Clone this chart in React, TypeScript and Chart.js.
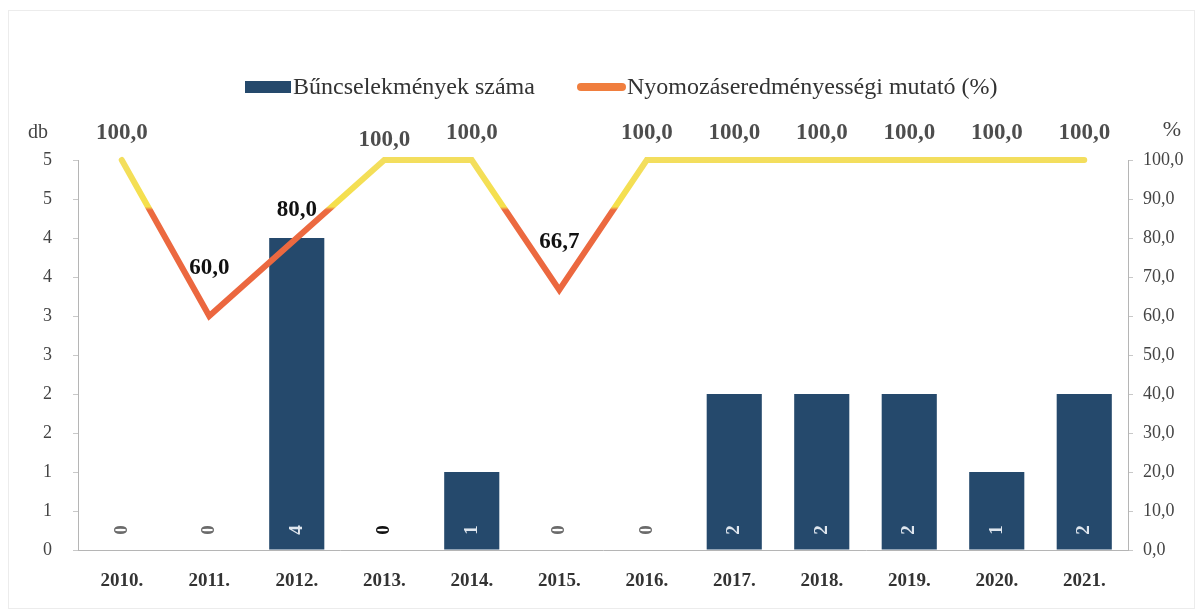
import React, { useEffect, useRef } from 'react';
import { Chart, registerables } from 'chart.js';

Chart.register(...registerables);

const years = ['2010.', '2011.', '2012.', '2013.', '2014.', '2015.', '2016.', '2017.', '2018.', '2019.', '2020.', '2021.'];
const crimeCounts = [0, 0, 4, 0, 1, 0, 0, 2, 2, 2, 1, 2];
const detectionRate = [100, 60, 80, 100, 100, 66.7, 100, 100, 100, 100, 100, 100];
const seriesNames = ['Bűncselekmények száma', 'Nyomozáseredményességi mutató (%)'];
const leftAxisTitle = 'db';
const rightAxisTitle = '%';

const FONT = "'Liberation Serif', 'Times New Roman', serif";
const BAR_COLOR = '#25496C';
const LINE_SWATCH = '#F07E3E';

// vertical offsets of line labels above their points
const lineLabelDy = [-27, -48, -28, -20, -27, -48, -27, -27, -27, -27, -27, -27];

const fmtPct = (v: number) => v.toFixed(1).replace('.', ',');

const decorPlugin = {
  id: 'decor',
  afterDatasetsDraw(chart: any) {
    const ctx = chart.ctx as CanvasRenderingContext2D;
    const yScale = chart.scales.y;
    // bar labels (rotated, inside bottom of bar)
    const barMeta = chart.getDatasetMeta(0);
    ctx.save();
    ctx.font = `bold 19px ${FONT}`;
    ctx.textAlign = 'center';
    ctx.textBaseline = 'middle';
    barMeta.data.forEach((el: any, i: number) => {
      const v = crimeCounts[i];
      const y = yScale.getPixelForValue(0) - 20;
      ctx.save();
      ctx.translate(el.x, y);
      ctx.rotate(-Math.PI / 2);
      ctx.fillStyle = v > 0 ? '#dfe6ee' : (i === 3 ? '#111' : '#6a6a6a');
      ctx.fillText(String(v), 0, 0);
      ctx.restore();
    });
    ctx.restore();

    // line labels
    const lineMeta = chart.getDatasetMeta(1);
    ctx.save();
    ctx.font = `bold 23px ${FONT}`;
    ctx.textAlign = 'center';
    ctx.textBaseline = 'middle';
    lineMeta.data.forEach((el: any, i: number) => {
      const v = detectionRate[i];
      ctx.fillStyle = v >= 100 ? '#4d4d4d' : '#111';
      ctx.fillText(fmtPct(v), el.x, el.y + lineLabelDy[i]);
    });
    ctx.restore();
  },
  afterDraw(chart: any) {
    const ctx = chart.ctx as CanvasRenderingContext2D;
    ctx.save();
    // faint frame
    ctx.strokeStyle = '#ececec';
    ctx.lineWidth = 1;
    ctx.strokeRect(8.5, 10.5, 1186, 598);
    // legend
    ctx.fillStyle = BAR_COLOR;
    ctx.fillRect(245, 81, 46, 12);
    ctx.font = `24px ${FONT}`;
    ctx.textBaseline = 'middle';
    ctx.textAlign = 'left';
    ctx.fillStyle = '#333';
    ctx.fillText(seriesNames[0], 293, 88);
    ctx.strokeStyle = LINE_SWATCH;
    ctx.lineWidth = 8;
    ctx.lineCap = 'round';
    ctx.beginPath();
    ctx.moveTo(581, 87);
    ctx.lineTo(622, 87);
    ctx.stroke();
    ctx.fillStyle = '#333';
    ctx.fillText(seriesNames[1], 627, 88);
    // axis titles
    ctx.font = `20px ${FONT}`;
    ctx.textAlign = 'center';
    ctx.fillStyle = '#444';
    ctx.fillText(leftAxisTitle, 38, 133);
    ctx.font = `22px ${FONT}`;
    ctx.fillText(rightAxisTitle, 1172, 130);
    ctx.restore();
  },
};

export default function App() {
  const ref = useRef<HTMLCanvasElement | null>(null);

  useEffect(() => {
    if (!ref.current) return;
    const chart = new Chart(ref.current, {
      type: 'bar',
      data: {
        labels: years,
        datasets: [
          {
            type: 'bar',
            label: seriesNames[0],
            data: crimeCounts,
            backgroundColor: BAR_COLOR,
            barPercentage: 0.63,
            categoryPercentage: 1,
            yAxisID: 'y',
            order: 1,
          },
          {
            type: 'line',
            label: seriesNames[1],
            data: detectionRate,
            yAxisID: 'y1',
            order: 0,
            borderWidth: 6,
            pointRadius: 0,
            tension: 0,
            clip: false as any,
            borderCapStyle: 'round',
            borderColor: (c: any) => {
              const ch = c.chart;
              if (!ch.chartArea) return LINE_SWATCH;
              const s = ch.scales.y1;
              const top = s.getPixelForValue(100);
              const bottom = s.getPixelForValue(0);
              const g = ch.ctx.createLinearGradient(0, top, 0, bottom);
              g.addColorStop(0, '#F3DE5E');
              g.addColorStop(0.12, '#F5E04A');
              g.addColorStop(0.128, '#EC6A40');
              g.addColorStop(1, '#E95E3C');
              return g;
            },
          } as any,
        ],
      },
      options: {
        responsive: false,
        animation: false,
        layout: { padding: { top: 160, left: 0, right: 0, bottom: 0 } },
        plugins: {
          legend: { display: false },
          tooltip: { enabled: false },
          title: { display: false },
        },
        scales: {
          x: {
            grid: { display: false, drawTicks: false },
            border: { display: true, color: '#b5b5b5', width: 1 },
            ticks: {
              color: '#333',
              font: { family: FONT, size: 19, weight: 'bold' },
              padding: 20,
              maxRotation: 0,
            },
            afterFit: (s: any) => { s.height = 66; },
          },
          y: {
            position: 'left',
            min: 0,
            max: 5,
            grid: { display: true, drawOnChartArea: false, drawTicks: true, tickLength: 5, color: '#c8c8c8' },
            border: { display: true, color: '#b5b5b5' },
            ticks: {
              stepSize: 0.5,
              color: '#444',
              font: { family: FONT, size: 18 },
              padding: 21,
              callback: (v: any) => String(Math.round(Number(v))),
            },
            afterFit: (s: any) => { s.width = 78; },
          },
          y1: {
            position: 'right',
            min: 0,
            max: 100,
            grid: { display: true, drawOnChartArea: false, drawTicks: true, tickLength: 5, color: '#c8c8c8' },
            border: { display: true, color: '#b5b5b5' },
            ticks: {
              stepSize: 10,
              color: '#444',
              font: { family: FONT, size: 18 },
              padding: 10,
              callback: (v: any) => fmtPct(Number(v)),
            },
            afterFit: (s: any) => { s.width = 73; },
          },
        },
      },
      plugins: [decorPlugin],
    });
    return () => chart.destroy();
  }, []);

  return (
    <div style={{ position: 'fixed', left: 0, top: 0, width: 1201, height: 616, background: '#fff' }}>
      <canvas ref={ref} width={1201} height={616} />
    </div>
  );
}
